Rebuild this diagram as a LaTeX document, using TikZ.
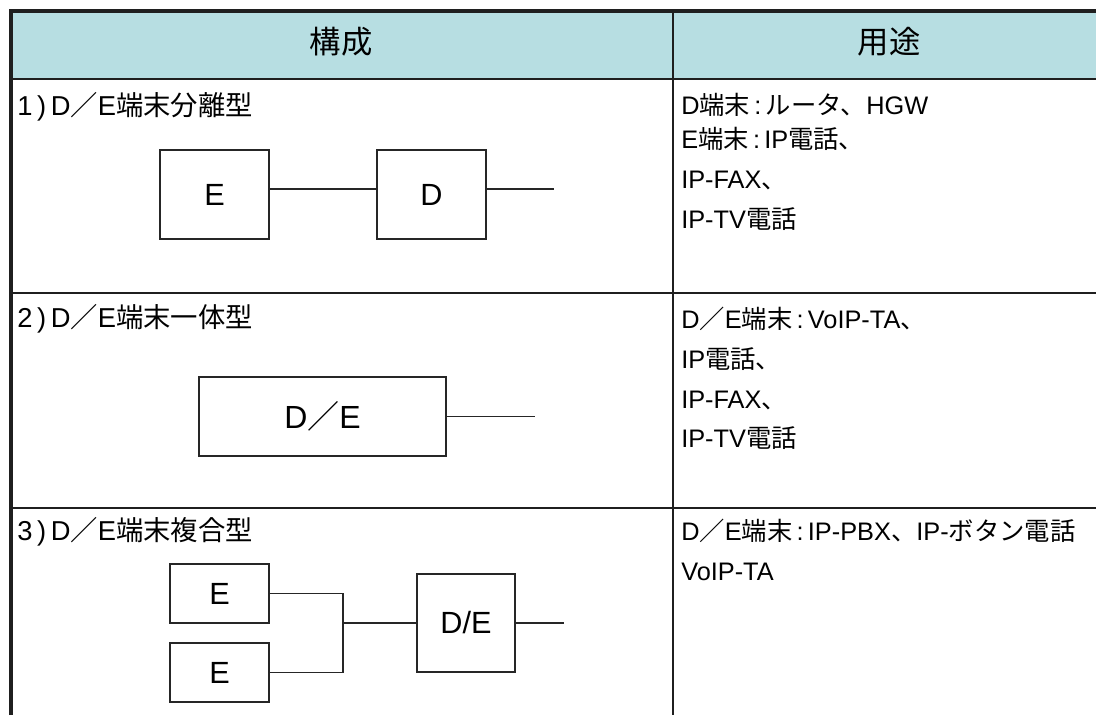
\documentclass[tikz,border=0pt]{standalone}
\usepackage{fontspec}
\setmainfont{Liberation Sans}
\newfontfamily\jpfont{Noto Sans CJK JP}
\newcommand{\ja}[1]{{\jpfont #1}}
\definecolor{headblue}{RGB}{183,222,226}
\begin{document}
\begin{tikzpicture}[x=0.75pt, y=-0.75pt,
    frame/.style={draw=black!88, line width=2.6pt},
    rule/.style={draw=black!88, line width=1.5pt},
    unit/.style={draw=black!85, line width=1pt, inner sep=0pt, font=\fontsize{23}{27}\selectfont},
    wire/.style={draw=black!85, line width=1pt},
    txt/.style={anchor=base west, inner sep=0pt, font=\fontsize{19}{23}\selectfont},
    kind/.style={txt, font=\fontsize{20.5}{24}\selectfont},
    head/.style={inner sep=0pt, font=\fontsize{23.5}{28}\selectfont}]
        \useasboundingbox (0,0) rectangle (1096,715);
        \fill[headblue] (11,11) rectangle (1096,79);
        \foreach \y in {79, 293, 508}
        \draw[rule] (11,\y) -- (1096,\y);
        \draw[rule] (673,11) -- (673,715);
        \draw[frame] (11,715) -- (11,11) -- (1096,11);
        
        \node[head] (hconf) at (341,42) {\ja{構成}};
        \node[head] (huse) at (889,42) {\ja{用途}};
        
        \node[kind] (kind1) at (17,115) {1\kern3.5pt)\kern3.5pt D\ja{／}E\ja{端末分離型}};
        \node[kind] (kind2) at (17,327) {2\kern3.5pt)\kern3.5pt D\ja{／}E\ja{端末一体型}};
        \node[kind] (kind3) at (17,540) {3\kern3.5pt)\kern3.5pt D\ja{／}E\ja{端末複合型}};
        
        \foreach \y/\t [count=\i] in {114/{D\ja{端末}\,:\,\ja{ルータ、}HGW}, 148/{E\ja{端末}\,:\,IP\ja{電話、}},
            188/{IP-FAX\ja{、}}, 228/{IP-TV\ja{電話}}}
        \node[txt] (use1-\i) at (681,\y) {\t};
        \foreach \y/\t [count=\i] in {328/{D\ja{／}E\ja{端末}\,:\,VoIP-TA\ja{、}}, 368/{IP\ja{電話、}},
            408/{IP-FAX\ja{、}}, 447/{IP-TV\ja{電話}}}
        \node[txt] (use2-\i) at (681,\y) {\t};
        \node[txt] (use3-1) at (681,540) {D\ja{／}E\ja{端末}\,:\,IP-PBX\ja{、}IP-\ja{ボタン電話}};
        \node[txt] (use3-2) at (681,580) {VoIP-TA};
        
        \node[unit, minimum width=81.75pt, minimum height=66.75pt] (sepE) at (214.5,194.5) {E};
        \node[unit, minimum width=81.75pt, minimum height=66.75pt] (sepD) at (431.5,194.5) {D};
        \coordinate (out1) at (554,189);
        \draw[wire] (sepE.east |- out1) -- (sepD.west |- out1) (sepD.east |- out1) -- (out1);
        
        \node[unit, minimum width=185.25pt, minimum height=59.25pt, font=\fontsize{24}{28}\selectfont] (oneDE) at (322.5,416.5) {D\ja{／}E};
        \coordinate (out2) at (535,416.5);
        \draw[wire] (oneDE.east) -- (out2);
        
        \node[unit, minimum width=74.25pt, minimum height=44.25pt] (mixE1) at (219.5,593.5) {E};
        \node[unit, minimum width=74.25pt, minimum height=44.25pt] (mixE2) at (219.5,672.5) {E};
        \node[unit, minimum width=73.5pt, minimum height=73.5pt] (mixDE) at (466,623) {D/E};
        \coordinate (join) at (343,623);
        \coordinate (out3) at (564,623);
        \draw[wire] (mixE1.east) -| (join) |- (mixE2.east);
        \draw[wire] (join) -- (mixDE.west) (mixDE.east) -- (out3);
\end{tikzpicture}
\end{document}
